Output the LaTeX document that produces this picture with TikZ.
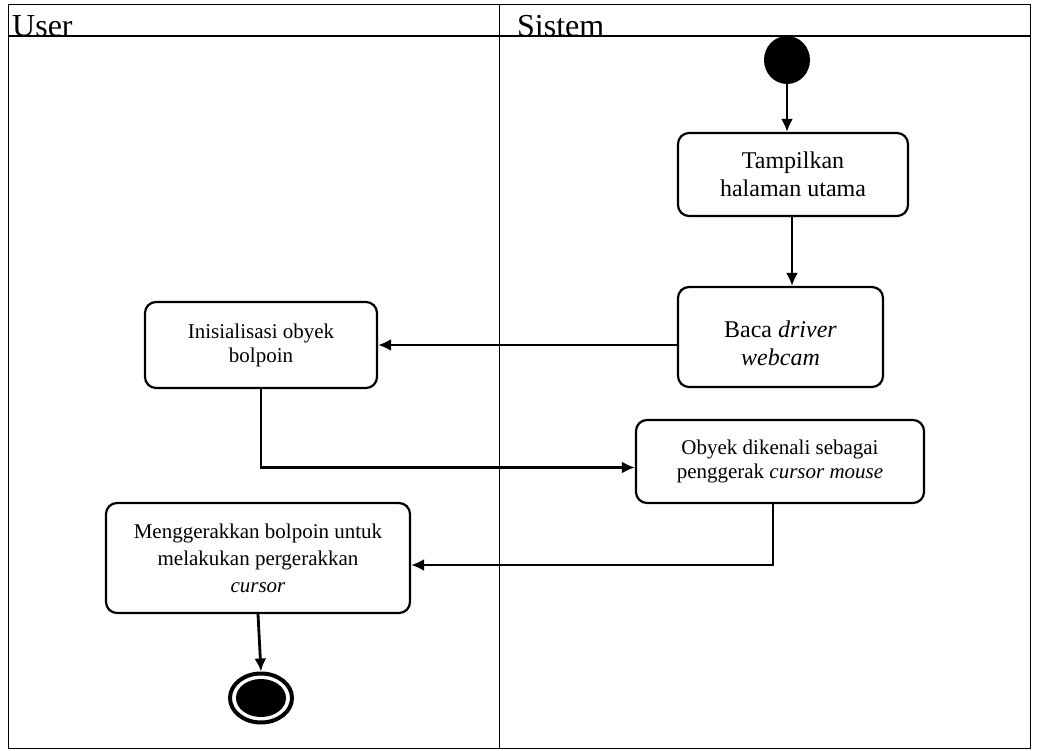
\documentclass[tikz,border=0pt]{standalone}
\usepackage{fontspec}
\setmainfont{Liberation Serif}
\usetikzlibrary{shapes.geometric,arrows.meta}
\begin{document}
\begin{tikzpicture}[x=1pt,y=-1pt,
  actbox/.style={draw, line width=2.2pt, rounded corners=11pt, align=center, inner sep=0pt},
  bigtxt/.style={font=\fontsize{24}{28}\selectfont},
  smalltxt/.style={font=\fontsize{21}{24}\selectfont},
  flow/.style={line width=2.8pt, -{Latex[length=13pt,width=12pt]}},
  lane/.style={line width=1pt},
  lanehead/.style={anchor=base west, font=\fontsize{32}{32}\selectfont, inner sep=0pt}]
\useasboundingbox (0,0) rectangle (1037,751);
% swimlane table
\draw[lane] (8,5) rectangle (1030,748);
\draw[lane] (499,5) -- (499,748);
\node[lanehead] (huser) at (12,37) {User};
\node[lanehead] (hsis) at (517,37) {Sistem};
\draw[line width=2pt] (8,36) -- (1030,36);
% nodes
\node[ellipse, fill=black, minimum width=46, minimum height=48, inner sep=0pt] (start) at (787,60) {};
\node[actbox, bigtxt, minimum width=230, minimum height=83] (tamp) at (793,174.5) {Tampilkan\\halaman utama};
\node[actbox, bigtxt, minimum width=205, minimum height=100, text depth=0pt] (baca) at (780.5,337) {\raisebox{4pt}{\begin{tabular}{@{}c@{}}Baca \textit{driver}\\\textit{webcam}\end{tabular}}};
\node[actbox, smalltxt, minimum width=232, minimum height=86] (init) at (261,345) {Inisialisasi obyek\\bolpoin};
\node[actbox, smalltxt, minimum width=288, minimum height=83] (obyek) at (780,461.5) {Obyek dikenali sebagai\\penggerak \textit{cursor mouse}};
\node[actbox, font=\fontsize{21}{27}\selectfont, minimum width=304, minimum height=110] (gerak) at (258,558) {Menggerakkan bolpoin untuk\\melakukan pergerakkan\\\textit{cursor}};
\node[ellipse, draw, line width=4pt, fill=white, minimum width=62, minimum height=49, inner sep=0pt] (end) at (261,698) {};
\fill (end.center) ellipse (25 and 19);
% connectors
\draw[flow] (start.south) -- (start.south |- tamp.north);
\draw[flow] ([xshift=-1pt]tamp.south) -- ([xshift=-1pt]tamp.south |- baca.north);
\draw[flow] (baca.west |- init.east) -- (init.east);
\draw[flow] (init.south) |- ([yshift=-6pt]obyek.west);
\draw[flow] ([xshift=-7pt]obyek.south) |- ([yshift=-7pt]gerak.east);
\draw[flow] (gerak.south) -- (end.north);
\end{tikzpicture}
\end{document}
